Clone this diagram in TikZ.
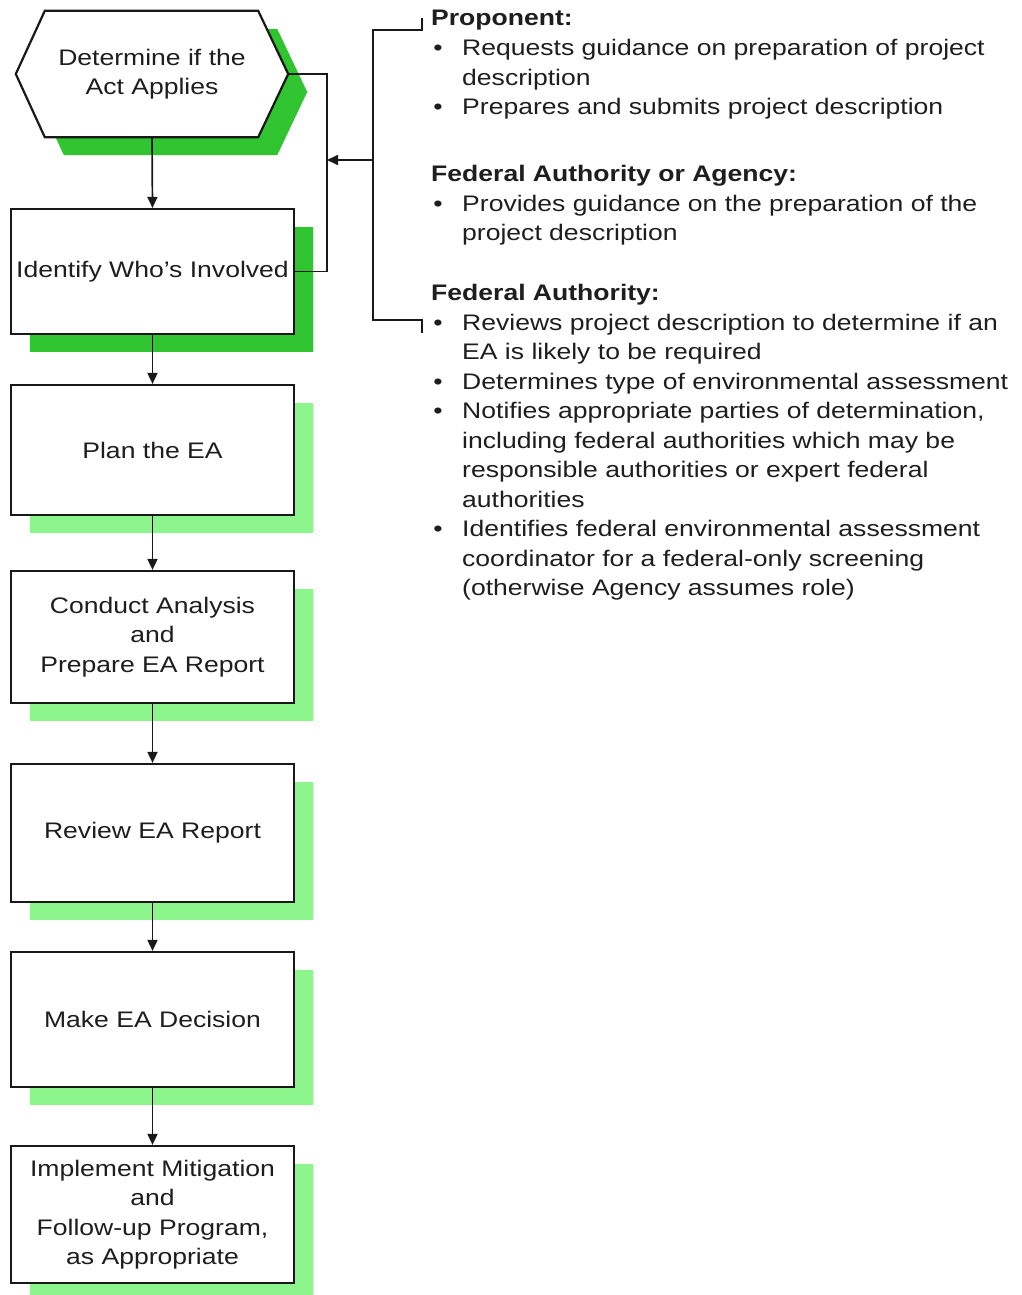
\documentclass[tikz,border=0pt]{standalone}
\usepackage{fontspec}
\setmainfont{Liberation Sans}[FakeStretch=1.18]
\usetikzlibrary{arrows.meta,shadows,calc,backgrounds}
\definecolor{dkgreen}{RGB}{48,196,48}
\definecolor{ltgreen}{RGB}{140,245,140}
\definecolor{ink}{RGB}{30,30,30}

\begin{document}
\begin{tikzpicture}[x=1pt,y=-1pt,
  txt/.style={font=\fontsize{22.5}{29.5}\selectfont, text=ink},
  stepbox/.style={txt, draw=black!90, line width=2.2pt, fill=white, rectangle,
    minimum width=283pt, inner sep=0pt, align=center},
  darkshade/.style={drop shadow={shadow xshift=19pt, shadow yshift=-18pt, fill=dkgreen, opacity=1}},
  lightshade/.style={drop shadow={shadow xshift=19pt, shadow yshift=-18pt, fill=ltgreen, opacity=1}},
  flow/.style={line width=1.7pt, draw=black!90, -{Triangle[length=11pt,width=10pt]}},
  link/.style={line width=1.7pt, draw=black!90},
  head/.style={txt, font=\fontsize{22.5}{29.5}\selectfont\bfseries, anchor=base west, inner sep=0pt},
  itemline/.style={txt, anchor=base west, inner sep=0pt},
  dot/.style={txt, anchor=base, inner sep=0pt}
]
\useasboundingbox (0,0) rectangle (1021,1295);

% ---- process steps ----
\node[txt, align=center, minimum width=272pt, minimum height=126pt, inner sep=0pt] (hex) at (152,74)
  {Determine if the\\Act Applies};
\begin{scope}[on background layer]
  \fill[dkgreen, transform canvas={xshift=19pt, yshift=-18pt}]
    (hex.west) -- ($(hex.north west)+(29,0)$) -- ($(hex.north east)+(-30,0)$) -- (hex.east)
    -- ($(hex.south east)+(-30,0)$) -- ($(hex.south west)+(29,0)$) -- cycle;
  \draw[line width=2.2pt, draw=black!90, fill=white]
    (hex.west) -- ($(hex.north west)+(29,0)$) -- ($(hex.north east)+(-30,0)$) -- (hex.east)
    -- ($(hex.south east)+(-30,0)$) -- ($(hex.south west)+(29,0)$) -- cycle;
\end{scope}

\node[stepbox, darkshade, minimum height=125pt] (b2) at (152.5,271.5) {Identify Who’s Involved};
\node[stepbox, lightshade, minimum height=130pt] (b3) at (152.5,450) {Plan the EA};
\node[stepbox, lightshade, minimum height=132pt] (b4) at (152.5,637) {Conduct Analysis\\and\\Prepare EA Report};
\node[stepbox, lightshade, minimum height=138pt] (b5) at (152.5,833) {Review EA Report};
\node[stepbox, lightshade, minimum height=135pt] (b6) at (152.5,1019.5) {Make EA Decision};
\node[stepbox, lightshade, minimum height=137pt] (b7) at (152.5,1214.5)
  {Implement Mitigation\\and\\Follow-up Program,\\as Appropriate};

\draw[flow] (hex.south) -- (b2.north);
\draw[flow] (b2.south) -- (b3.north);
\draw[flow] (b3.south) -- (b4.north);
\draw[flow] (b4.south) -- (b5.north);
\draw[flow] (b5.south) -- (b6.north);
\draw[flow] (b6.south) -- (b7.north);

% ---- loop joining the first two steps, fed by the role bracket ----
\coordinate (loop) at (327,74);
\draw[link] (hex.east) -- (loop) |- (b2.east);
\coordinate (join) at (327,160);
\coordinate (brk) at (373,160);
\draw[flow] (brk) -- (join);
\coordinate (btop) at (422,18);
\coordinate (bbot) at (422,333);
\draw[link] (btop) -- (422,30) -- (373,30) -- (373,320) -- (422,320) -- (bbot);

% ---- roles ----
\node[head] (hp) at (431,26) {Proponent:};
\node[dot] (pd1) at (438,56) {•};
\node[itemline] (p1a) at (462,56) {Requests guidance on preparation of project};
\node[itemline] (p1b) at (462,85.5) {description};
\node[dot] (pd2) at (438,115) {•};
\node[itemline] (p2a) at (462,115) {Prepares and submits project description};

\node[head] (ha) at (431,181) {Federal Authority or Agency:};
\node[dot] (ad1) at (438,211) {•};
\node[itemline] (a1a) at (462,211) {Provides guidance on the preparation of the};
\node[itemline] (a1b) at (462,240.5) {project description};

\node[head] (hf) at (431,300) {Federal Authority:};
\node[dot] (fd1) at (438,330) {•};
\node[itemline] (f1a) at (462,330) {Reviews project description to determine if an};
\node[itemline] (f1b) at (462,359.5) {EA is likely to be required};
\node[dot] (fd2) at (438,389) {•};
\node[itemline] (f2a) at (462,389) {Determines type of environmental assessment};
\node[dot] (fd3) at (438,418.5) {•};
\node[itemline] (f3a) at (462,418.5) {Notifies appropriate parties of determination,};
\node[itemline] (f3b) at (462,448) {including federal authorities which may be};
\node[itemline] (f3c) at (462,477.5) {responsible authorities or expert federal};
\node[itemline] (f3d) at (462,507) {authorities};
\node[dot] (fd4) at (438,536.5) {•};
\node[itemline] (f4a) at (462,536.5) {Identifies federal environmental assessment};
\node[itemline] (f4b) at (462,566) {coordinator for a federal-only screening};
\node[itemline] (f4c) at (462,595.5) {(otherwise Agency assumes role)};
\end{tikzpicture}
\end{document}
